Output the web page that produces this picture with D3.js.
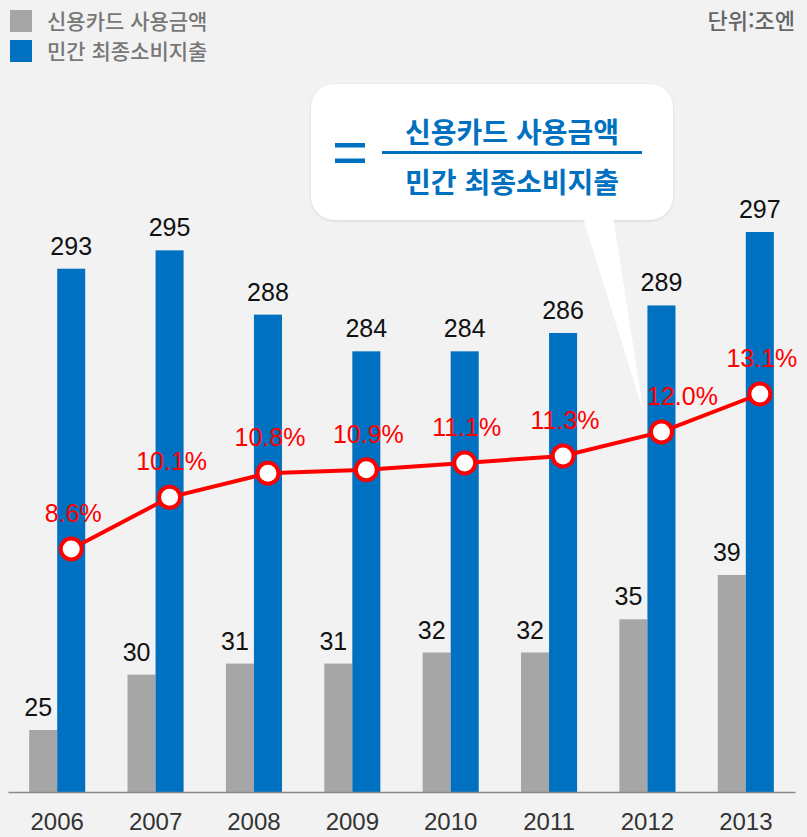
<!DOCTYPE html>
<html lang="ko">
<head>
<meta charset="UTF-8">
<title>신용카드 사용금액 / 민간 최종소비지출</title>
<script src="https://d3js.org/d3.v7.min.js"></script>
<style>
  html, body { margin: 0; padding: 0; background: #f2f2f2; }
  svg { display: block; }
</style>
</head>
<body>
<div id="chart"></div>
<script>
// data (unit: 조엔, ratio in %)
var years = ["2006", "2007", "2008", "2009", "2010", "2011", "2012", "2013"];
var cardUsage = [25, 30, 31, 31, 32, 32, 35, 39];
var consumption = [293, 295, 288, 284, 284, 286, 289, 297];
var ratio = [8.6, 10.1, 10.8, 10.9, 11.1, 11.3, 12.0, 13.1];
var seriesNames = ["신용카드 사용금액", "민간 최종소비지출"];
var unitLabel = "단위:조엔";

var W = 807, H = 837;
var baseY = 792;
var GRAY = "#a6a6a6", BLUE = "#0070c0", RED = "#ff0000";
var numFont = "'Liberation Sans', Arial, sans-serif";
var krFont = "'Noto Sans CJK KR', 'Noto Sans', sans-serif";

var svg = d3.select("#chart").append("svg")
    .attr("width", W)
    .attr("height", H);

svg.append("rect").attr("width", W).attr("height", H).attr("fill", "#f2f2f2");

var defs = svg.append("defs");
var shadow = defs.append("filter").attr("id", "shadow")
    .attr("x", "-10%").attr("y", "-10%").attr("width", "120%").attr("height", "130%");
shadow.append("feDropShadow").attr("dx", 0).attr("dy", 1).attr("stdDeviation", 1.5)
    .attr("flood-color", "#000").attr("flood-opacity", 0.12);

// scales
var x0 = d3.scaleBand().domain(years).range([8, 795])
    .paddingInner(0.43).paddingOuter(0.215);
var x1 = d3.scaleBand().domain(["card", "cons"]).range([0, x0.bandwidth()]);

// the bars are not drawn from zero in the original, each series has its own truncated axis
var yCard = d3.scaleLinear().domain([19.4, 39]).range([baseY, 575]);
var yCons = d3.scaleLinear().domain([236, 297]).range([baseY, 232]);
var yRatio = d3.scaleLinear().domain([8.6, 13.1]).range([549, 394]);

// bars
var groups = svg.append("g").selectAll("g")
    .data(years)
    .enter().append("g")
    .attr("transform", function (d) { return "translate(" + x0(d) + ",0)"; });

groups.append("rect")
    .attr("x", x1("card"))
    .attr("y", function (d, i) { return yCard(cardUsage[i]); })
    .attr("width", x1.bandwidth())
    .attr("height", function (d, i) { return baseY - yCard(cardUsage[i]); })
    .attr("fill", GRAY);

groups.append("rect")
    .attr("x", x1("cons"))
    .attr("y", function (d, i) { return yCons(consumption[i]); })
    .attr("width", x1.bandwidth())
    .attr("height", function (d, i) { return baseY - yCons(consumption[i]); })
    .attr("fill", BLUE);

// value labels
groups.append("text")
    .attr("x", x1("card") + x1.bandwidth() / 2 - 5)
    .attr("y", function (d, i) { return yCard(cardUsage[i]) - 14; })
    .attr("text-anchor", "middle")
    .style("font-family", numFont)
    .style("font-size", "25px")
    .attr("fill", "#111")
    .text(function (d, i) { return cardUsage[i]; });

groups.append("text")
    .attr("x", x1("cons") + x1.bandwidth() / 2)
    .attr("y", function (d, i) { return yCons(consumption[i]) - 14; })
    .attr("text-anchor", "middle")
    .style("font-family", numFont)
    .style("font-size", "25px")
    .attr("fill", "#111")
    .text(function (d, i) { return consumption[i]; });

// x axis
var xAxis = svg.append("g")
    .attr("transform", "translate(0," + baseY + ")")
    .call(d3.axisBottom(x0).tickSize(0).tickSizeOuter(0).tickPadding(21));
xAxis.select(".domain").attr("stroke", "#8a8a8a").attr("stroke-width", 1.5);
xAxis.selectAll("text")
    .style("font-family", numFont)
    .style("font-size", "24px")
    .attr("fill", "#333");

// callout bubble
var bubble = svg.append("g");
bubble.append("path")
    .attr("d", "M583,218 L613,218 L643,410 Z")
    .attr("fill", "#fff");
bubble.append("rect")
    .attr("x", 311).attr("y", 84)
    .attr("width", 362).attr("height", 136)
    .attr("rx", 24)
    .attr("fill", "#fff")
    .attr("filter", "url(#shadow)");
bubble.append("path")
    .attr("d", "M583,216 L613,216 L643,410 Z")
    .attr("fill", "#fff");
bubble.append("rect").attr("x", 335).attr("y", 143).attr("width", 30).attr("height", 4.5).attr("fill", BLUE);
bubble.append("rect").attr("x", 335).attr("y", 158.5).attr("width", 30).attr("height", 4.5).attr("fill", BLUE);
bubble.append("rect").attr("x", 382).attr("y", 151).attr("width", 260).attr("height", 3).attr("fill", BLUE);
bubble.append("text")
    .attr("x", 512).attr("y", 143)
    .attr("text-anchor", "middle")
    .style("font-family", krFont).style("font-size", "28px").style("font-weight", "bold")
    .attr("fill", BLUE)
    .text(seriesNames[0]);
bubble.append("text")
    .attr("x", 512).attr("y", 193)
    .attr("text-anchor", "middle")
    .style("font-family", krFont).style("font-size", "28px").style("font-weight", "bold")
    .attr("fill", BLUE)
    .text(seriesNames[1]);

// ratio line
var px = function (i) { return x0(years[i]) + x1("cons") + x1.bandwidth() / 2; };
var line = d3.line()
    .x(function (d, i) { return px(i); })
    .y(function (d) { return yRatio(d); });

svg.append("path")
    .datum(ratio)
    .attr("d", line)
    .attr("fill", "none")
    .attr("stroke", RED)
    .attr("stroke-width", 4);

svg.append("g").selectAll("circle")
    .data(ratio)
    .enter().append("circle")
    .attr("cx", function (d, i) { return px(i); })
    .attr("cy", function (d) { return yRatio(d); })
    .attr("r", 10.5)
    .attr("fill", "#fff")
    .attr("stroke", RED)
    .attr("stroke-width", 4);

svg.append("g").selectAll("text")
    .data(ratio)
    .enter().append("text")
    // 2012 label is nudged right in the original to clear the callout tail
    .attr("x", function (d, i) { return px(i) + (i === 6 ? 21 : 2); })
    .attr("y", function (d) { return yRatio(d) - 27; })
    .attr("text-anchor", "middle")
    .style("font-family", numFont)
    .style("font-size", "25px")
    .attr("fill", RED)
    .text(function (d) { return d.toFixed(1) + "%"; });

// legend
var legend = svg.append("g").selectAll("g")
    .data(seriesNames)
    .enter().append("g")
    .attr("transform", function (d, i) { return "translate(10," + (10 + i * 30) + ")"; });
legend.append("rect")
    .attr("width", 22).attr("height", 22)
    .attr("fill", function (d, i) { return i === 0 ? GRAY : BLUE; });
legend.append("text")
    .attr("x", 37).attr("y", 18.5)
    .style("font-family", krFont).style("font-size", "21px").style("font-weight", 500)
    .attr("fill", "#777")
    .text(function (d) { return d; });

svg.append("text")
    .attr("x", 795).attr("y", 29)
    .attr("text-anchor", "end")
    .style("font-family", krFont).style("font-size", "22px").style("font-weight", 500)
    .attr("fill", "#666")
    .text(unitLabel);
</script>
</body>
</html>
